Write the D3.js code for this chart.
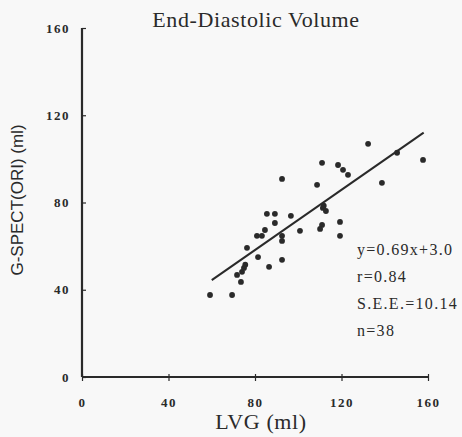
<!DOCTYPE html>
<html>
<head>
<meta charset="utf-8">
<script src="https://cdn.jsdelivr.net/npm/d3@7"></script>
<style>
  body { margin: 0; background: #f8f8f8; }
  svg { display: block; }
</style>
</head>
<body>
<div id="chart"></div>
<script>
// values
const lvg = [59.2, 69.4, 73.5, 71.7, 74.0, 74.9, 86.5, 81.4, 92.5, 76.3,
             80.9, 83.2, 84.6, 92.5, 92.5, 100.8, 89.2, 85.5, 89.2, 96.6,
             92.5, 108.7, 111.0, 118.4, 120.7, 123.0, 132.3, 145.7, 157.7, 138.7,
             111.4, 112.8, 111.0, 110.1, 119.3, 119.3, 75.5, 111.8];
const gspect = [37.6, 37.6, 43.6, 46.8, 48.2, 50.0, 50.5, 55.0, 53.7, 59.2,
                64.7, 64.7, 67.4, 64.7, 62.4, 67.0, 70.6, 74.8, 74.8, 73.9,
                90.8, 88.1, 98.2, 97.2, 95.0, 92.7, 106.9, 102.8, 99.5, 89.0,
                77.5, 76.1, 69.7, 67.9, 71.1, 64.7, 51.5, 78.5];
const xTicks = [0, 40, 80, 120, 160];
const yTicks = [0, 40, 80, 120, 160];
const fitSlope = 0.69, fitIntercept = 3.0;
const fitRange = [60, 158];
const statLines = ["y=0.69x+3.0", "r=0.84", "S.E.E.=10.14", "n=38"];

const width = 462, height = 437;
const margin = { left: 82, right: 34, top: 28, bottom: 60 };

const svg = d3.select("#chart").append("svg")
    .attr("width", width)
    .attr("height", height);

const x = d3.scaleLinear().domain([0, 160]).range([margin.left, width - margin.right]);
const y = d3.scaleLinear().domain([0, 160]).range([height - margin.bottom, margin.top]);

const ink = "#2a2a2a";
const serif = "'Liberation Serif', 'Times New Roman', serif";

// x axis
const xAxis = svg.append("g")
    .attr("transform", "translate(0," + y(0) + ")")
    .call(d3.axisBottom(x).tickValues(xTicks).tickSize(4).tickPadding(17));
// y axis
const yAxis = svg.append("g")
    .attr("transform", "translate(" + x(0) + ",0)")
    .call(d3.axisLeft(y).tickValues(yTicks).tickSize(-4).tickPadding(12));

[xAxis, yAxis].forEach(function (g) {
    g.select(".domain").attr("stroke", ink).attr("stroke-width", 2.2);
    g.selectAll(".tick line").attr("stroke", ink).attr("stroke-width", 1.2);
    g.selectAll(".tick text")
        .attr("fill", ink)
        .style("font-family", serif)
        .style("font-weight", "bold")
        .style("font-size", "13px")
        .style("letter-spacing", "1.5px");
});
xAxis.select(".domain").attr("d", "M" + x(0) + ",0H" + x(160));
yAxis.select(".domain").attr("d", "M0," + y(0) + "V" + y(160));
// small crossing part of x ticks
xAxis.selectAll(".tick line").attr("y1", -3);

// points
svg.append("g").selectAll("circle")
    .data(lvg.map(function (v, i) { return [v, gspect[i]]; }))
    .enter()
    .append("circle")
    .attr("cx", function (d) { return x(d[0]); })
    .attr("cy", function (d) { return y(d[1]); })
    .attr("r", 2.9)
    .attr("fill", ink);

// regression line
svg.append("line")
    .attr("x1", x(fitRange[0]))
    .attr("y1", y(fitSlope * fitRange[0] + fitIntercept))
    .attr("x2", x(fitRange[1]))
    .attr("y2", y(fitSlope * fitRange[1] + fitIntercept))
    .attr("stroke", ink)
    .attr("stroke-width", 2);

// stats text
svg.append("g").selectAll("text")
    .data(statLines)
    .enter()
    .append("text")
    .attr("x", 357)
    .attr("y", function (d, i) { return 255 + i * 27; })
    .attr("fill", ink)
    .style("font-family", serif)
    .style("font-size", "16px")
    .style("letter-spacing", "1.3px")
    .text(function (d) { return d; });

// title
svg.append("text")
    .attr("x", 256)
    .attr("y", 27)
    .attr("text-anchor", "middle")
    .attr("fill", ink)
    .style("font-family", serif)
    .style("font-size", "22px")
    .style("letter-spacing", "0.6px")
    .text("End-Diastolic Volume");

// axis titles
svg.append("text")
    .attr("x", 261)
    .attr("y", 429)
    .attr("text-anchor", "middle")
    .attr("fill", ink)
    .style("font-family", serif)
    .style("font-size", "22px")
    .style("letter-spacing", "0.6px")
    .text("LVG (ml)");

svg.append("text")
    .attr("transform", "translate(23,200) rotate(-90)")
    .attr("text-anchor", "middle")
    .attr("fill", ink)
    .style("font-family", "'Liberation Sans', Arial, sans-serif")
    .style("font-size", "17px")
    .text("G-SPECT(ORI) (ml)");
</script>
</body>
</html>
